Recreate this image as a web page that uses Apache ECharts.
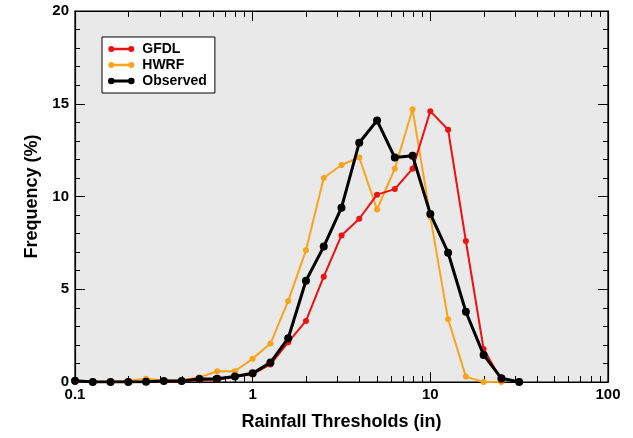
<!DOCTYPE html>
<html>
<head>
<meta charset="utf-8">
<script src="https://cdn.jsdelivr.net/npm/echarts@6/dist/echarts.min.js"></script>
<style>html,body{margin:0;padding:0;background:#fff}#c{width:633px;height:438px}</style>
</head>
<body>
<div id="c"></div>
<script>
var thresholds = [0.1, 0.1259, 0.1585, 0.1995, 0.2512, 0.3162, 0.3981, 0.5012, 0.631, 0.7943, 1, 1.259, 1.585, 1.995, 2.512, 3.162, 3.981, 5.012, 6.31, 7.943, 10, 12.59, 15.85, 19.95, 25.12, 31.62];
var gfdl = [0, 0, 0, 0, 0, 0.03, 0.03, 0.1, 0.12, 0.3, 0.42, 0.95, 2.14, 3.29, 5.68, 7.9, 8.8, 10.1, 10.4, 11.5, 14.6, 13.6, 7.6, 1.78, 0.1];
var hwrf = [0.03, 0, 0.04, 0.07, 0.18, 0.08, 0.1, 0.25, 0.58, 0.58, 1.26, 2.07, 4.37, 7.1, 11.0, 11.7, 12.1, 9.3, 11.5, 14.7, 8.9, 3.38, 0.29, 0, 0];
var observed = [0.07, 0, 0, 0, 0.02, 0.05, 0.05, 0.16, 0.18, 0.3, 0.47, 1.05, 2.36, 5.46, 7.3, 9.4, 12.9, 14.1, 12.1, 12.2, 9.06, 6.97, 3.79, 1.46, 0.2, 0];
var xMajorLabels = [0.1, 1, 10, 100];
var xMinorTicks = [0.2,0.3,0.4,0.5,0.6,0.7,0.8,0.9,2,3,4,5,6,7,8,9,20,30,40,50,60,70,80,90];

function pairs(vals){ return vals.map(function(v,i){ return [thresholds[i], v]; }); }
var minorLog = xMinorTicks.map(function(v){ return Math.log10(v); });
var FONT = '"Liberation Sans", Arial, sans-serif';
var iconPath = 'path://M0,2a2,2 0 1,0 4,0a2,2 0 1,0 -4,0z M20,2a2,2 0 1,0 4,0a2,2 0 1,0 -4,0z M2,1.8h20v0.4h-20z';
var C_GFDL = '#ee1111', C_HWRF = '#f8a51c', C_OBS = '#000000';

var chart = echarts.init(document.getElementById('c'), null, {renderer:'canvas'});
var gridDef = {left:75, right:25, top:11, bottom:56};
function leg(name, col, w){ return {name:name, icon:iconPath, itemStyle:{color:col, borderColor:col, borderWidth:w, opacity:1}}; }
chart.setOption({
  animation:false,
  backgroundColor:'#ffffff',
  grid:[Object.assign({show:true, backgroundColor:'#e9e9e9', borderColor:'#000', borderWidth:1.2}, gridDef)],
  legend:{
    orient:'vertical', left:102, top:37, padding:[5,8,5,6], itemGap:2,
    backgroundColor:'#fff', borderColor:'#000', borderWidth:1,
    itemWidth:24, itemHeight:4,
    data:[leg('GFDL', C_GFDL, 2), leg('HWRF', C_HWRF, 2), leg('Observed', C_OBS, 2.6)],
    textStyle:{fontFamily:FONT, fontWeight:'bold', fontSize:14, color:'#000', padding:[0,0,0,4]}
  },
  xAxis:[
    {type:'log', logBase:10, min:0.1, max:100, position:'bottom',
     name:'Rainfall Thresholds (in)', nameLocation:'middle', nameGap:31,
     nameTextStyle:{fontFamily:FONT, fontWeight:'bold', fontSize:18, color:'#000'},
     axisLine:{show:true, onZero:false, lineStyle:{color:'#000', width:1.2}},
     axisTick:{show:true, inside:true, length:10, lineStyle:{color:'#000'}},
     axisLabel:{show:true, margin:5, fontFamily:FONT, fontWeight:'bold', fontSize:15, color:'#000',
       formatter:function(v){ var r = xMajorLabels.filter(function(m){return Math.abs(m-v)/m<1e-6;}); return r.length? String(r[0]) : ''; }},
     splitLine:{show:false}, minorTick:{show:false}},
    {type:'log', logBase:10, min:0.1, max:100, position:'top',
     axisLine:{show:true, onZero:false, lineStyle:{color:'#000', width:1.2}},
     axisTick:{show:true, inside:true, length:10, lineStyle:{color:'#000'}},
     axisLabel:{show:false}, splitLine:{show:false}},
    {type:'value', min:-1, max:2, position:'bottom',
     axisLine:{show:false, onZero:false}, axisLabel:{show:false}, splitLine:{show:false},
     axisTick:{show:true, inside:true, length:6, customValues:minorLog, lineStyle:{color:'#000'}}},
    {type:'value', min:-1, max:2, position:'top',
     axisLine:{show:false, onZero:false}, axisLabel:{show:false}, splitLine:{show:false},
     axisTick:{show:true, inside:true, length:6, customValues:minorLog, lineStyle:{color:'#000'}}}
  ],
  yAxis:[
    {type:'value', min:0, max:20, interval:5, position:'left',
     name:'Frequency (%)', nameLocation:'middle', nameGap:32,
     nameTextStyle:{fontFamily:FONT, fontWeight:'bold', fontSize:18, color:'#000'},
     axisLine:{show:true, onZero:false, lineStyle:{color:'#000', width:1.2}},
     axisTick:{show:true, inside:true, length:10, lineStyle:{color:'#000'}},
     minorTick:{show:true, splitNumber:5, length:5, lineStyle:{color:'#000'}},
     axisLabel:{margin:6, fontFamily:FONT, fontWeight:'bold', fontSize:15, color:'#000'},
     splitLine:{show:false}},
    {type:'value', min:0, max:20, interval:5, position:'right',
     axisLine:{show:true, onZero:false, lineStyle:{color:'#000', width:1.2}},
     axisTick:{show:true, inside:true, length:10, lineStyle:{color:'#000'}},
     minorTick:{show:true, splitNumber:5, length:5, lineStyle:{color:'#000'}},
     axisLabel:{show:false}, splitLine:{show:false}}
  ],
  series:[
    {name:'HWRF', type:'line', xAxisIndex:0, yAxisIndex:0, data:pairs(hwrf), color:C_HWRF,
     symbol:'circle', symbolSize:6, lineStyle:{width:2, color:C_HWRF}, itemStyle:{color:C_HWRF}, z:2},
    {name:'GFDL', type:'line', xAxisIndex:0, yAxisIndex:0, data:pairs(gfdl), color:C_GFDL,
     symbol:'circle', symbolSize:6, lineStyle:{width:2, color:C_GFDL}, itemStyle:{color:C_GFDL}, z:3},
    {name:'Observed', type:'line', xAxisIndex:0, yAxisIndex:0, data:pairs(observed), color:C_OBS,
     symbol:'circle', symbolSize:8, lineStyle:{width:3, color:C_OBS}, itemStyle:{color:C_OBS}, z:4}
  ]
});
</script>
</body>
</html>
